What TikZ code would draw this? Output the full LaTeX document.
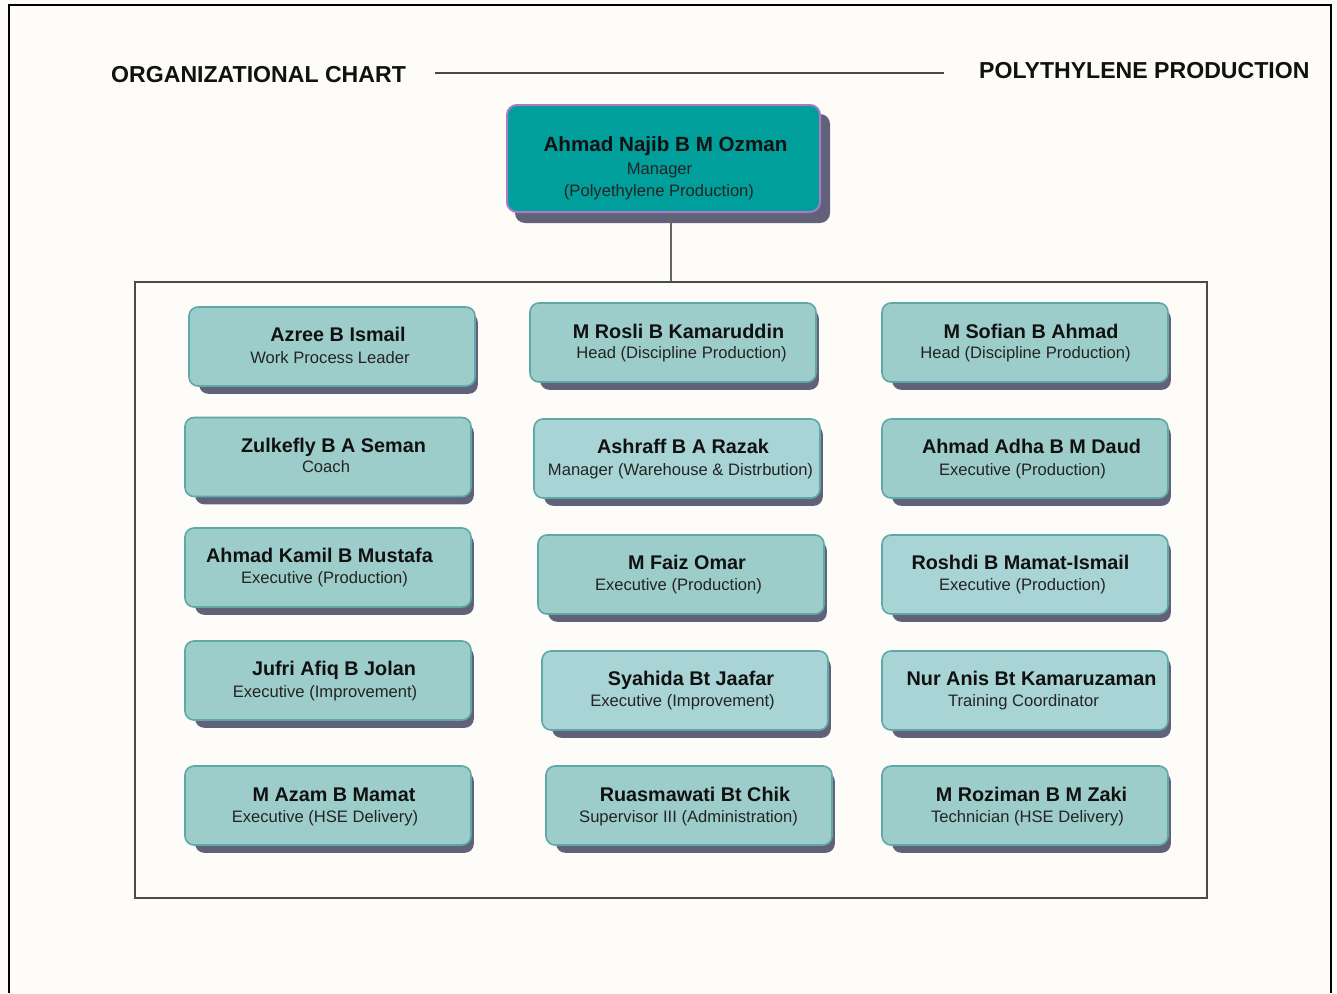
\documentclass[tikz,border=0pt]{standalone}
\usepackage{fontspec}
\setmainfont{Liberation Sans}
\usetikzlibrary{backgrounds}

\definecolor{paper}{HTML}{FDFCF8}
\definecolor{tealfill}{HTML}{9DCDCB}
\definecolor{tealfillb}{HTML}{A8D4D5}
\definecolor{tealedge}{HTML}{5EA8A7}
\definecolor{bossfill}{HTML}{009F9B}
\definecolor{bossedge}{HTML}{A77BC6}
\definecolor{shadowc}{HTML}{62617A}
\definecolor{inkc}{HTML}{111111}
\definecolor{rolec}{HTML}{242424}
\definecolor{rulec}{HTML}{4A4A4A}

\tikzset{
  staff/.style={draw=tealedge, line width=1.6pt, fill=tealfill, rounded corners=9pt,
    minimum width=286pt, minimum height=79pt, inner sep=0pt},
  staffb/.style={staff, fill=tealfillb},
  boss/.style={draw=bossedge, line width=2pt, fill=bossfill, rounded corners=10pt,
    minimum width=313pt, minimum height=107pt, inner sep=0pt},
  nm/.style={anchor=base, inner sep=0pt, text=inkc, font=\fontsize{19.8}{21}\selectfont\bfseries},
  rl/.style={anchor=base, inner sep=0pt, text=rolec, font=\fontsize{16.6}{18}\selectfont},
  heading/.style={anchor=base west, inner sep=0pt, text=inkc, font=\fontsize{23.1}{25}\selectfont\bfseries},
  panelbox/.style={draw=rulec, line width=1.5pt, minimum width=1072pt, minimum height=616pt, inner sep=0pt},
}

% one staff card: id, style, centre, name baseline, name, role baseline, role
\newcommand\card[7]{%
  \node[#2] (#1) at #3 {};
  \begin{pgfonlayer}{background}
    \fill[shadowc, rounded corners=9pt] ([xshift=11pt,yshift=-7pt]#1.north west)
      rectangle ([xshift=2pt,yshift=-7pt]#1.south east);
  \end{pgfonlayer}
  \node[nm] (#1-name) at #4 {#5};
  \node[rl] (#1-role) at #6 {#7};
}

\begin{document}
\begin{tikzpicture}[x=1pt,y=-1pt]
  \useasboundingbox (0,0) rectangle (1337,993);
  \begin{pgfonlayer}{background}
    \fill[paper] (0,0) rectangle (1337,993);
  \end{pgfonlayer}

  % page frame, open at the bottom
  \draw[black, line width=2.5pt] (9,993) -- (9,5) -- (1331,5) -- (1331,993);

  % headings and rule between them
  \node[heading] (title) at (111,82) {ORGANIZATIONAL CHART};
  \node[heading] (unit) at (979,78) {POLYTHYLENE PRODUCTION};
  \coordinate (ruleL) at (435,73);
  \coordinate (ruleR) at (944,73);
  \draw[rulec, line width=1.2pt] (ruleL) -- (ruleR);

  % manager
  \node[boss] (mgr) at (663.5,158.5) {};
  \begin{pgfonlayer}{background}
    \fill[shadowc, rounded corners=10pt] ([xshift=9pt,yshift=-10pt]mgr.north west)
      rectangle ([xshift=9pt,yshift=-10pt]mgr.south east);
  \end{pgfonlayer}
  \node[nm, font=\fontsize{20.6}{22}\selectfont\bfseries] (mgr-name) at (665.5,151) {Ahmad Najib B M Ozman};
  \node[rl] (mgr-role) at (659.5,174) {Manager};
  \node[rl] (mgr-unit) at (659,196) {(Polyethylene Production)};

  % team panel
  \node[panelbox] (panel) at (671,590) {};
  \draw[rulec!85, line width=1.5pt] (mgr.south -| panel.north) -- (panel.north);

  % left column
  \card{azree}{staff}{(332,346.5)}{(338,341)}{Azree B Ismail}{(330,363)}{Work Process Leader}
  \card{zulkefly}{staff}{(328,457)}{(333.5,452)}{Zulkefly B A Seman}{(326,472)}{Coach}
  \card{kamil}{staff}{(328,567.5)}{(319.5,562)}{Ahmad Kamil B Mustafa}{(324.5,583)}{Executive (Production)}
  \card{jufri}{staff}{(328,680.5)}{(334,675)}{Jufri Afiq B Jolan}{(325,697)}{Executive (Improvement)}
  \card{azam}{staff}{(328,805.5)}{(334,801)}{M Azam B Mamat}{(325,822)}{Executive (HSE Delivery)}

  % middle column
  \card{rosli}{staff}{(673,342.5)}{(678.5,338)}{M Rosli B Kamaruddin}{(681.5,358)}{Head (Discipline Production)}
  \card{ashraff}{staffb}{(677,458.5)}{(683,453)}{Ashraff B A Razak}{(680.5,475)}{Manager (Warehouse \& Distrbution)}
  \card{faiz}{staff}{(681,574.5)}{(687,569)}{M Faiz Omar}{(678.5,590)}{Executive (Production)}
  \card{syahida}{staffb}{(685,690.5)}{(691,685)}{Syahida Bt Jaafar}{(682.5,706)}{Executive (Improvement)}
  \card{ruas}{staff}{(689,805.5)}{(695,801)}{Ruasmawati Bt Chik}{(688.5,822)}{Supervisor III (Administration)}

  % right column
  \card{sofian}{staff}{(1025,342.5)}{(1031,338)}{M Sofian B Ahmad}{(1025.5,358)}{Head (Discipline Production)}
  \card{adha}{staff}{(1025,458.5)}{(1031.5,453)}{Ahmad Adha B M Daud}{(1022.5,475)}{Executive (Production)}
  \card{roshdi}{staffb}{(1025,574.5)}{(1020.5,569)}{Roshdi B Mamat-Ismail}{(1022.5,590)}{Executive (Production)}
  \card{anis}{staffb}{(1025,690.5)}{(1031.5,685)}{Nur Anis Bt Kamaruzaman}{(1023.5,706)}{Training Coordinator}
  \card{roziman}{staff}{(1025,805.5)}{(1031.5,801)}{M Roziman B M Zaki}{(1027.5,822)}{Technician (HSE Delivery)}
\end{tikzpicture}
\end{document}
